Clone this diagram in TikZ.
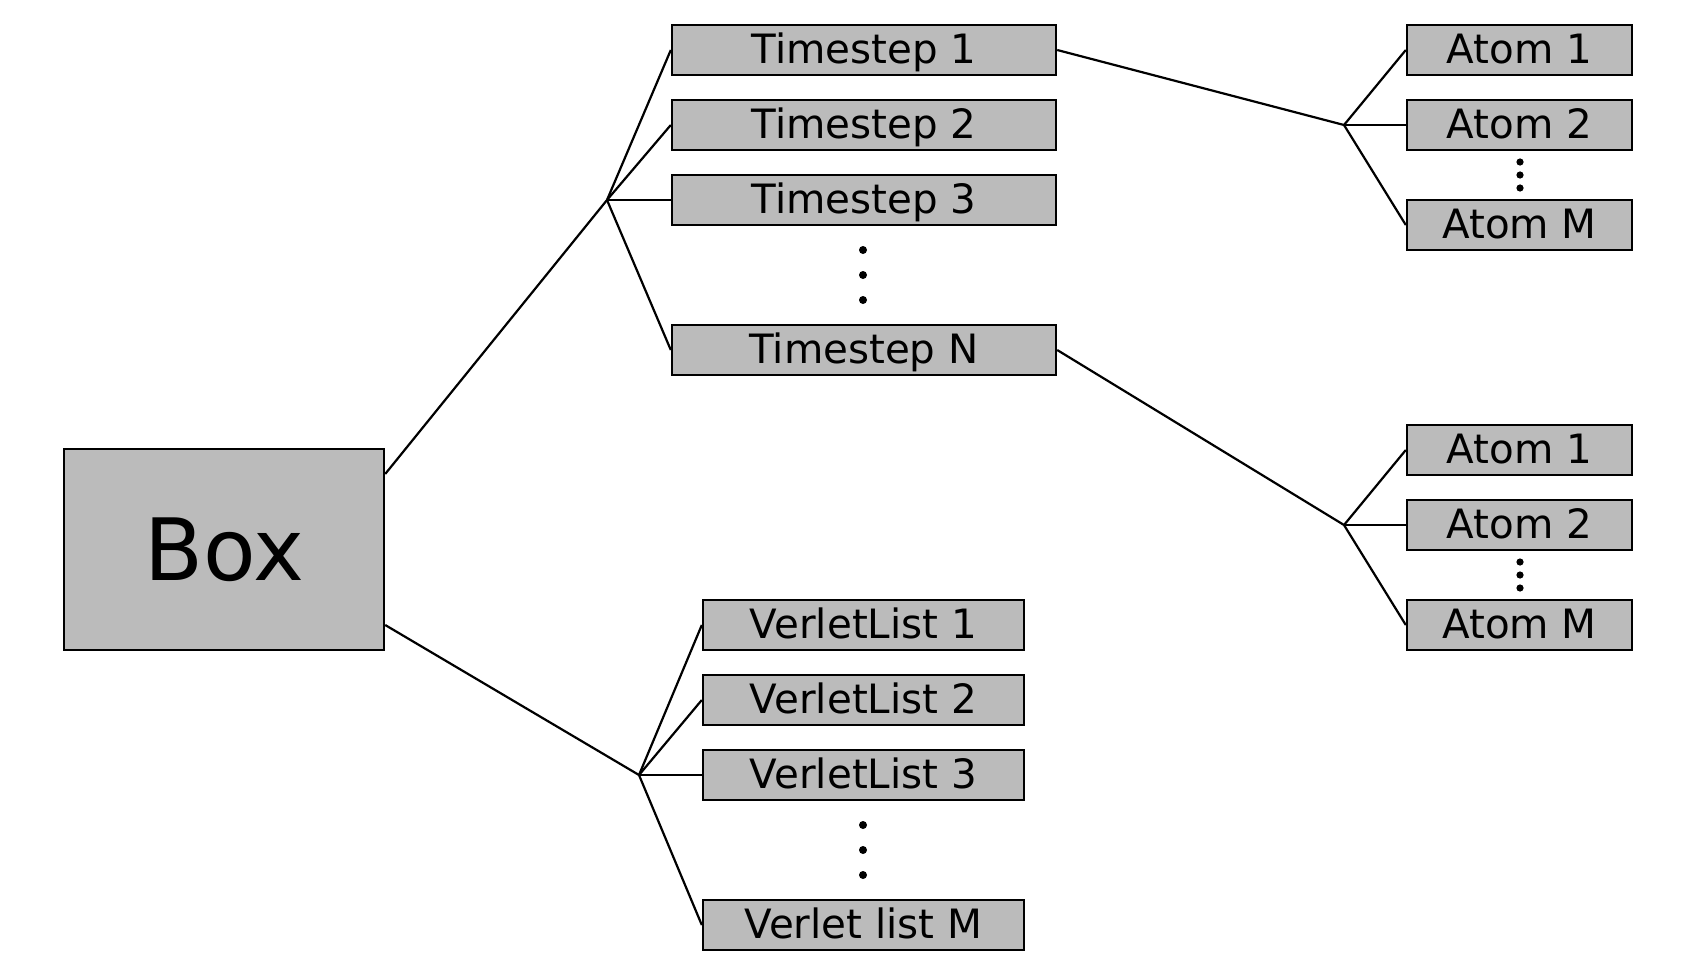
\documentclass[tikz,border=0pt]{standalone}
\usepackage{fontspec}
\setmainfont{DejaVu Sans}
\definecolor{boxgray}{RGB}{187,187,187}
\begin{document}
\begin{tikzpicture}[x=0.5pt,y=-0.5pt,
  item/.style={draw, line width=1.2pt, fill=boxgray, inner sep=0pt,
    minimum height=25pt, font=\fontsize{20.2}{24}\selectfont,
    text height=14.7pt, text depth=1.6pt},
  tsbox/.style={item, minimum width=192pt},
  atombox/.style={item, minimum width=112.5pt},
  vlbox/.style={item, minimum width=160.5pt},
  bigbox/.style={draw, line width=1.2pt, fill=boxgray, inner sep=0pt,
    minimum width=160pt, minimum height=100.5pt,
    font=\fontsize{43}{50}\selectfont, text height=31.35pt, text depth=0pt},
  link/.style={line width=1.1pt},
  dotbig/.style={circle, fill=black, inner sep=0pt, minimum size=4pt},
  dotsmall/.style={circle, fill=black, inner sep=0pt, minimum size=3.6pt}]
\useasboundingbox (0,0) rectangle (1696,975);

% main box
\node[bigbox] (box) at (224,549.5) {Box};

% timesteps
\node[tsbox] (t1) at (864,50) {Timestep 1};
\node[tsbox] (t2) at (864,125) {Timestep 2};
\node[tsbox] (t3) at (864,200) {Timestep 3};
\node[tsbox] (tn) at (864,350) {Timestep N};
\node[dotbig] (td1) at (863,250) {};
\node[dotbig] (td2) at (863,275) {};
\node[dotbig] (td3) at (863,300) {};

% verlet lists
\node[vlbox] (v1) at (863.5,625) {VerletList 1};
\node[vlbox] (v2) at (863.5,700) {VerletList 2};
\node[vlbox] (v3) at (863.5,775) {VerletList 3};
\node[vlbox] (vm) at (863.5,925) {Verlet list M};
\node[dotbig] (vd1) at (863,825) {};
\node[dotbig] (vd2) at (863,850) {};
\node[dotbig] (vd3) at (863,875) {};

% atoms (top)
\node[atombox] (a1) at (1519.5,50) {Atom 1};
\node[atombox] (a2) at (1519.5,125) {Atom 2};
\node[atombox] (am) at (1519.5,225) {Atom M};
\node[dotsmall] (ad1) at (1520,162) {};
\node[dotsmall] (ad2) at (1520,175) {};
\node[dotsmall] (ad3) at (1520,188) {};

% atoms (bottom)
\node[atombox] (b1) at (1519.5,450) {Atom 1};
\node[atombox] (b2) at (1519.5,525) {Atom 2};
\node[atombox] (bm) at (1519.5,625) {Atom M};
\node[dotsmall] (bd1) at (1520,562) {};
\node[dotsmall] (bd2) at (1520,575) {};
\node[dotsmall] (bd3) at (1520,588) {};

% junctions
\coordinate (jt) at (607,200);
\coordinate (jv) at (639,775);
\coordinate (ja) at (1344,125);
\coordinate (jb) at (1344,525);

% connectors
\draw[link] ([yshift=37.75pt]box.east) -- (jt);
\draw[link] ([yshift=-37.75pt]box.east) -- (jv);
\foreach \n in {t1,t2,t3,tn} \draw[link] (jt) -- (\n.west);
\foreach \n in {v1,v2,v3,vm} \draw[link] (jv) -- (\n.west);
\draw[link] (t1.east) -- (ja);
\draw[link] (tn.east) -- (jb);
\foreach \n in {a1,a2,am} \draw[link] (ja) -- (\n.west);
\foreach \n in {b1,b2,bm} \draw[link] (jb) -- (\n.west);
\end{tikzpicture}
\end{document}
